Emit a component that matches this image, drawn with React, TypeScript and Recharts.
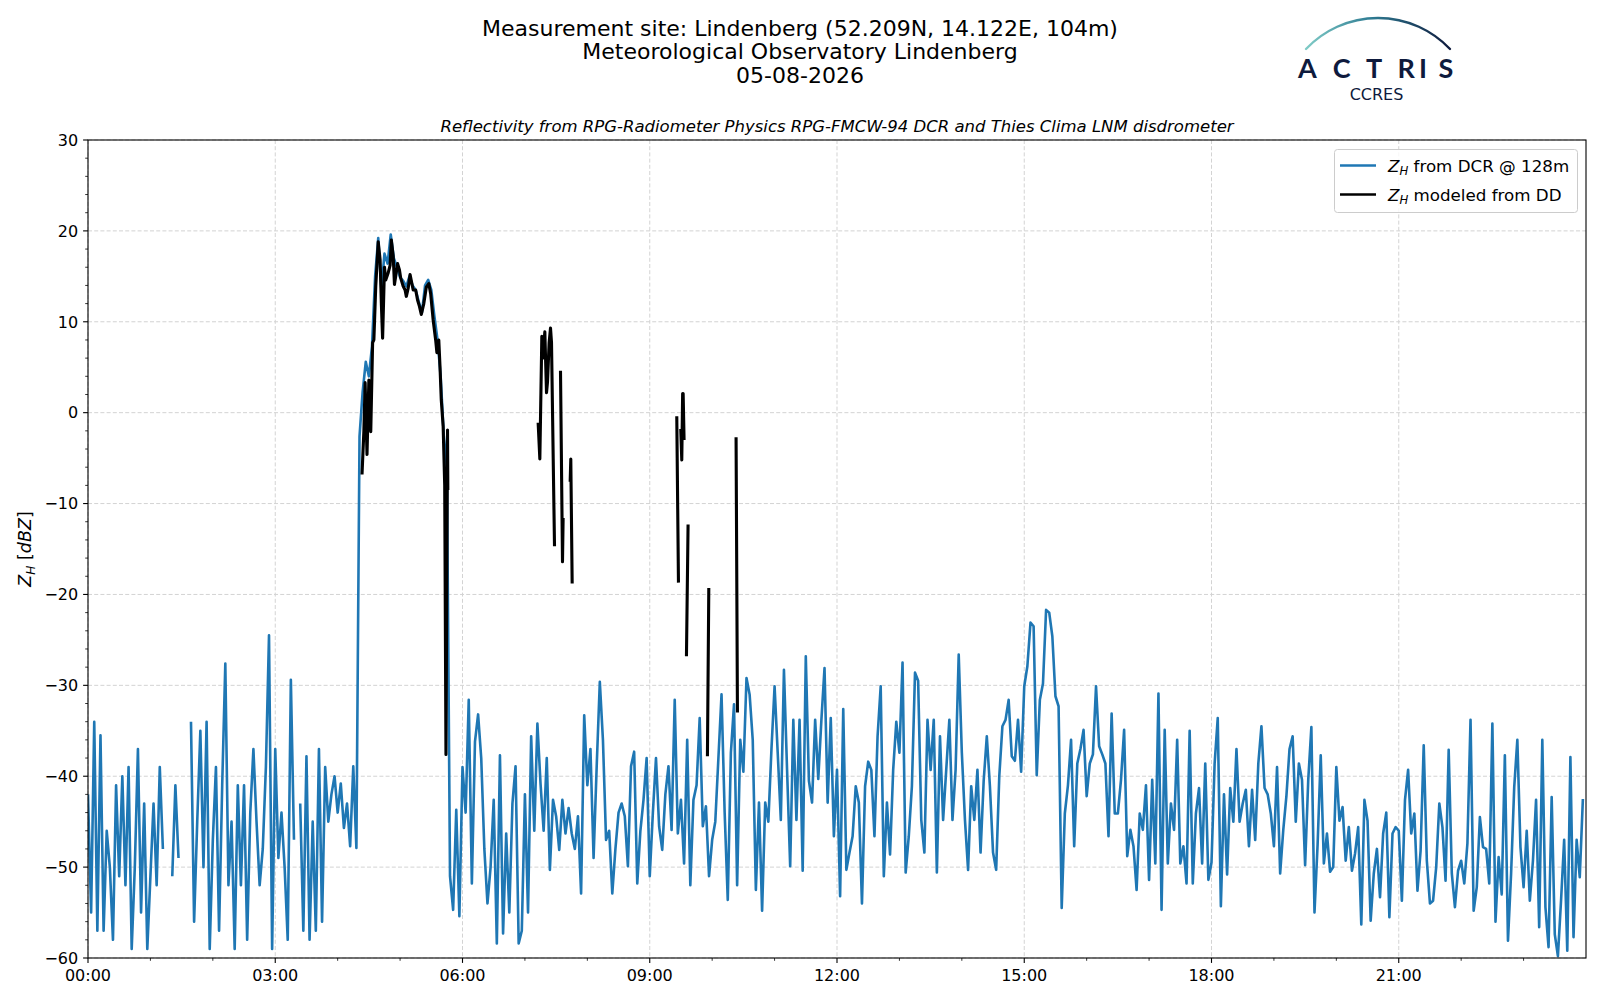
import React from "react"
import { LineChart, Line, XAxis, YAxis, CartesianGrid } from "recharts"

// DCR reflectivity at 128 m, 3-minute samples, one row per hour (null = no data)
const dcrHourly: (number | null)[][] = [
  [-42, -55, -34, -57, -35.5, -57, -46, -50, -58, -41, -51, -40, -52, -39, -59, -50, -37, -55, -43, -59],
  [-51, -43, -52, -39, -48, null, null, -51, -41, -49, null, null, null, -34, -56, -45, -35, -50, -34, -59],
  [-47, -39, -57, -41, -27.6, -52, -45, -59, -41, -52, -41, -58, -44, -37, -45, -52, -48, -39, -24.5, -59],
  [-37, -49, -44, -50, -58, -29.4, -47, null, -43, -57, -37.8, -58, -45, -57, -37, -56, -39, -45, -42, -40],
  [-44, -40.8, -45.7, -43, -47.7, -38.9, -47.9, -2.6, 2.3, 5.6, 4.0, 7.3, 15, 19.2, 13.5, 17.5, 16.4, 19.6, 17.0, 16.0],
  [14.9, 14.5, 13.9, 15.0, 14.0, 13.5, 12.2, 11.0, 14.0, 14.6, 13.5, 10.6, 8.0, 4.0, -2.5, -6, -51, -54.7, -43.7, -55.4],
  [-39, -44, -31.6, -51.8, -36.2, -33.2, -38, -48, -54, -50, -42.6, -58.4, -37.7, -57.3, -46.3, -55, -43, -38.9, -58.4, -57],
  [-42, -55, -35.6, -46, -34.2, -40.8, -46, -38, -50.3, -42.6, -44.4, -48.1, -42.6, -46.3, -43.5, -46.3, -48, -44.4, -52.9, -33.3],
  [-41, -37, -49, -38.9, -29.6, -36, -47, -46, -52.9, -48, -44, -43, -44.4, -49.9, -38.9, -37.3, -51.8, -46, -42.6, -38],
  [-51, -44, -38, -45.5, -48.1, -42, -38.9, -45.9, -31.6, -46.3, -42.6, -49.6, -36, -52, -42.6, -41, -33.6, -45.5, -43.3, -51],
  [-47, -45, -38, -31, -44, -53.6, -37.4, -32.1, -52, -36, -39.5, -29.2, -31, -36, -52.5, -42.9, -54.8, -42.9, -45, -37],
  [-30.1, -37.4, -44.8, -28.3, -39.3, -49.9, -33.8, -44.8, -33.8, -50.4, -26.8, -40.5, -42.9, -33.8, -40.3, -33.8, -28.1, -42.9, -33.6, -46.6],
  [-39.3, -53.2, -32.6, -50.3, -48.4, -46.6, -41.1, -42.9, -54, -41.1, -38.4, -39.3, -46.6, -35.6, -30.1, -51, -42.9, -48.6, -39.3, -34],
  [-37.4, -27.5, -50.6, -46.6, -41.1, -28.6, -29.5, -44.8, -48.4, -33.8, -39.3, -33.8, -50.6, -35.6, -44.8, -39.3, -33.8, -44.8, -39.3, -26.6],
  [-37.4, -44.8, -50.3, -41.1, -44.8, -39.3, -48.4, -40.5, -35.6, -41.1, -48.4, -50.3, -40, -34.5, -33.8, -31.6, -37.8, -38.3, -33.8, -39.5],
  [-30.1, -27.9, -23.1, -23.5, -39.9, -31.6, -29.8, -21.7, -22, -24.6, -31.2, -32.3, -54.5, -44.1, -41, -36, -47.7, -38.6, -37, -34.9],
  [-42.2, -38.6, -37.6, -30.1, -36.7, -37.6, -38.6, -46.6, -33.1, -44.1, -44.1, -40.4, -34.9, -48.8, -45.9, -47.7, -52.5, -44.1, -45.9, -41],
  [-51.4, -40.4, -49.6, -30.9, -54.7, -34.9, -49.6, -43, -45.9, -36, -49.6, -47.7, -51.8, -35, -51.8, -44.1, -41.3, -49.6, -38.6, -51.4],
  [-49.5, -38.6, -33.6, -54.3, -42, -50.8, -41.3, -45, -37, -45, -43, -41.5, -47.7, -41.5, -47, -38.6, -34.5, -41.3, -42, -44.1],
  [-47.7, -39, -50.7, -45.9, -42.2, -37, -35.6, -45, -38.6, -40.4, -49.8, -40.4, -34.6, -55, -47.5, -37.7, -49.6, -46.3, -50.5, -50],
  [-39, -44.9, -43.4, -49.3, -45.6, -50.4, -48.5, -45.6, -56.3, -42.6, -44.9, -55.9, -50.7, -48, -53.3, -46.3, -44, -55.5, -46.3, -45.6],
  [-46, -53.7, -42.6, -39.3, -46.3, -44.1, -52.6, -48.2, -36.6, -49.3, -54, -53.7, -50, -43, -45.6, -51.5, -37.1, -50.7, -54.4, -50.4],
  [-49.3, -51.8, -47.4, -33.8, -54.8, -52.2, -44.5, -47.8, -48, -51.8, -34.2, -56, -48.9, -53, -37.7, -58.1, -50.7, -41.2, -36, -47.8],
  [-52.2, -46, -53.7, -49.3, -42.6, -56.6, -36, -54.4, -58.8, -42.3, -57.4, -59.8, -53.7, -47, -59.2, -37.9, -57.7, -47, -51.1, -42.5],
]

// Reflectivity modeled from disdrometer (hours, dBZ; null breaks the line)
const ddTimes = [
  4.39, 4.42, 4.44, 4.47, 4.5, 4.53, 4.56, 4.58, 4.61, 4.65, 4.68, 4.7, 4.72, 4.75, 4.77, 4.81, 4.84, 4.86,
  4.89, 4.91, 4.96, 4.99, 5.01, 5.05, 5.08, 5.1, 5.13, 5.16, 5.21, 5.25, 5.28, 5.31, 5.34, 5.38, 5.42, 5.46,
  5.49, 5.53, 5.57, 5.59, 5.62, 5.64, 5.66, 5.69, 5.715, 5.735, 5.76, 5.765,
  6.5,
  7.212, 7.239, 7.271, 7.287, 7.319, 7.346, 7.362, 7.388, 7.41, 7.426, 7.474,
  7.52,
  7.57, 7.602, 7.612,
  7.68,
  7.725, 7.735, 7.757,
  8.5,
  9.433, 9.46,
  9.48,
  9.497, 9.513, 9.527, 9.535, 9.55,
  9.57,
  9.588, 9.614,
  9.8,
  9.924, 9.946,
  10.2,
  10.383, 10.405,
]
const ddValues: (number | null)[] = [
  -6.8, -2.0, 3.3, -4.6, 3.6, -2.1, 7.7, 8.0, 13.9, 18.8, 16.8, 12.0, 8.2, 16.0, 14.6, 15.4, 16.2, 19.0,
  17.2, 14.1, 16.4, 15.7, 14.8, 13.9, 13.5, 12.8, 13.7, 15.2, 13.5, 13.5, 12.4, 11.7, 10.8, 12.0, 13.8, 14.2,
  13.1, 10.2, 8.0, 6.6, 8.0, 5.0, 1.4, -1.5, -8, -37.6, -1.9, -8.5,
  null,
  -1.1, -5.1, 8.4, 6.0, 8.9, 2.2, 3.4, 7.7, 9.3, 7.7, -14.7,
  null,
  4.6, -16.4, -11.6,
  null,
  -7.6, -5.1, -18.8,
  null,
  -0.4, -18.7,
  null,
  -1.8, -5.2, 2.1, 2.1, -3.0,
  null,
  -26.8, -12.3,
  null,
  -37.8, -19.3,
  null,
  -2.7, -33.0,
]

const timeLabels = ["00:00", "03:00", "06:00", "09:00", "12:00", "15:00", "18:00", "21:00"]
const zLabels = [30, 20, 10, 0, -10, -20, -30, -40, -50, -60]

const BLUE = "#1f77b4"
const FONT = "'DejaVu Sans', sans-serif"
const NAVY = "#0e1a3d"

const dcrData = dcrHourly.flatMap((row, h) => row.map((v, k) => ({ t: h + k / 20, v })))
const ddData = ddTimes.map((t, i) => ({ t, v: ddValues[i] }))

const hourTicks = Array.from({ length: 24 }, (_, i) => i)
const zTicks = Array.from({ length: 46 }, (_, i) => 30 - 2 * i)
const gridX = timeLabels.map((_, i) => i * 3)

const fmtZ = (v: number) => (v < 0 ? "\u2212" + Math.abs(v) : String(v))

function TimeTick(props: any) {
  const { x, y, payload } = props
  const h = payload.value
  const major = h % 3 === 0
  return (
    <g>
      <line x1={x} x2={x} y1={y} y2={y + (major ? 4.9 : 2.8)} stroke="#000" strokeWidth={major ? 1.1 : 0.8} />
      {major && (
        <text x={x} y={y + 23} textAnchor="middle" fontSize={16} fontFamily={FONT} fill="#000">
          {timeLabels[h / 3]}
        </text>
      )}
    </g>
  )
}

function ZTick(props: any) {
  const { x, y, payload } = props
  const v = payload.value
  const major = zLabels.includes(v)
  return (
    <g>
      <line x1={x} x2={x - (major ? 4.9 : 2.8)} y1={y} y2={y} stroke="#000" strokeWidth={major ? 1.1 : 0.8} />
      {major && (
        <text x={x - 9.8} y={y + 5.8} textAnchor="end" fontSize={16} fontFamily={FONT} fill="#000">
          {fmtZ(v)}
        </text>
      )}
    </g>
  )
}

function Overlay() {
  return (
    <svg
      width={1600}
      height={1000}
      style={{ position: "absolute", left: 0, top: 0, pointerEvents: "none" }}
      fontFamily={FONT}
    >
      <defs>
        <linearGradient id="arcGrad" x1="0" y1="0" x2="1" y2="0">
          <stop offset="0%" stopColor="#7fcbc6" />
          <stop offset="45%" stopColor="#2f7c93" />
          <stop offset="100%" stopColor={NAVY} />
        </linearGradient>
        <linearGradient id="mastGrad" x1="0" y1="0" x2="0" y2="1">
          <stop offset="0%" stopColor="#b8bcc8" />
          <stop offset="40%" stopColor={NAVY} />
        </linearGradient>
      </defs>

      {/* plot frame */}
      <rect x={88} y={140} width={1498} height={818} fill="none" stroke="#000" strokeWidth={1.1} />

      {/* titles */}
      <text x={800} y={36} textAnchor="middle" fontSize={22} fill="#000">
        Measurement site: Lindenberg (52.209N, 14.122E, 104m)
      </text>
      <text x={800} y={59} textAnchor="middle" fontSize={22} fill="#000">
        Meteorological Observatory Lindenberg
      </text>
      <text x={800} y={82.5} textAnchor="middle" fontSize={22} fill="#000">
        05-08-2026
      </text>
      <text x={837} y={132} textAnchor="middle" fontSize={16.5} fontStyle="italic" fill="#000">
        Reflectivity from RPG-Radiometer Physics RPG-FMCW-94 DCR and Thies Clima LNM disdrometer
      </text>

      {/* y axis label */}
      <text x={31} y={549} textAnchor="middle" fontSize={17.5} fill="#000" transform="rotate(-90 31 549)">
        <tspan fontStyle="italic">Z</tspan>
        <tspan fontStyle="italic" fontSize={12.2} dy={3.7}>H</tspan>
        <tspan dy={-3.7}> [</tspan>
        <tspan fontStyle="italic">dBZ</tspan>
        <tspan>]</tspan>
      </text>

      {/* legend */}
      <rect x={1334.5} y={149.5} width={243} height={63} rx={3} fill="#fff" fillOpacity={0.8} stroke="#cccccc" strokeWidth={1} />
      <line x1={1340} x2={1376} y1={165.5} y2={165.5} stroke={BLUE} strokeWidth={2.7} />
      <line x1={1340} x2={1376} y1={194.5} y2={194.5} stroke="#000" strokeWidth={2.7} />
      <text x={1388} y={171.5} fontSize={16.7} fill="#000">
        <tspan fontStyle="italic">Z</tspan>
        <tspan fontStyle="italic" fontSize={11.7} dy={3.5}>H</tspan>
        <tspan dy={-3.5}> from DCR @ 128m</tspan>
      </text>
      <text x={1388} y={200.5} fontSize={16.7} fill="#000">
        <tspan fontStyle="italic">Z</tspan>
        <tspan fontStyle="italic" fontSize={11.7} dy={3.5}>H</tspan>
        <tspan dy={-3.5}> modeled from DD</tspan>
      </text>

      {/* ACTRIS / CCRES logo */}
      <path d="M 1306 49 A 99 99 0 0 1 1450 49" fill="none" stroke="url(#arcGrad)" strokeWidth={2.4} strokeLinecap="round" />
      <line x1={1422.7} x2={1422.7} y1={1.5} y2={53} stroke="url(#mastGrad)" strokeWidth={1.4} />
      {[
        ["A", 1307.5],
        ["C", 1341.7],
        ["T", 1374.2],
        ["R", 1406.2],
        ["I", 1422.9],
        ["S", 1445.8],
      ].map(([ch, cx]) => (
        <text key={ch as string} x={cx as number} y={77.8} textAnchor="middle" fontSize={27} fontWeight={700} fontFamily="Lato, sans-serif" fill={NAVY}>
          {ch}
        </text>
      ))}
      <text x={1376.5} y={99.5} textAnchor="middle" fontSize={16} fontFamily={FONT} fill={NAVY}>
        CCRES
      </text>
    </svg>
  )
}

export default function App() {
  return (
    <div style={{ position: "absolute", left: 0, top: 0, width: 1600, height: 1000, background: "#fff" }}>
      <LineChart width={1600} height={1000} margin={{ top: 140, right: 14, bottom: 41, left: 87 }}>
        <CartesianGrid
          verticalValues={gridX}
          horizontalValues={zLabels}
          stroke="#d3d3d3"
          strokeDasharray="4 2.2"
          strokeWidth={1}
        />
        <XAxis
          dataKey="t"
          type="number"
          domain={[0, 24]}
          ticks={hourTicks}
          interval={0}
          height={1}
          tickSize={0}
          tickMargin={0}
          axisLine={false}
          tick={TimeTick}
          allowDataOverflow
        />
        <YAxis
          type="number"
          domain={[-60, 30]}
          ticks={zTicks}
          interval={0}
          width={1}
          tickSize={0}
          tickMargin={0}
          axisLine={false}
          tick={ZTick}
          allowDataOverflow
        />
        <Line
          data={dcrData}
          dataKey="v"
          type="linear"
          stroke={BLUE}
          strokeWidth={2.6}
          strokeLinejoin="round"
          dot={false}
          activeDot={false}
          isAnimationActive={false}
        />
        <Line
          data={ddData}
          dataKey="v"
          type="linear"
          stroke="#000"
          strokeWidth={3.1}
          strokeLinejoin="round"
          dot={false}
          activeDot={false}
          isAnimationActive={false}
        />
      </LineChart>
      <Overlay />
    </div>
  )
}
